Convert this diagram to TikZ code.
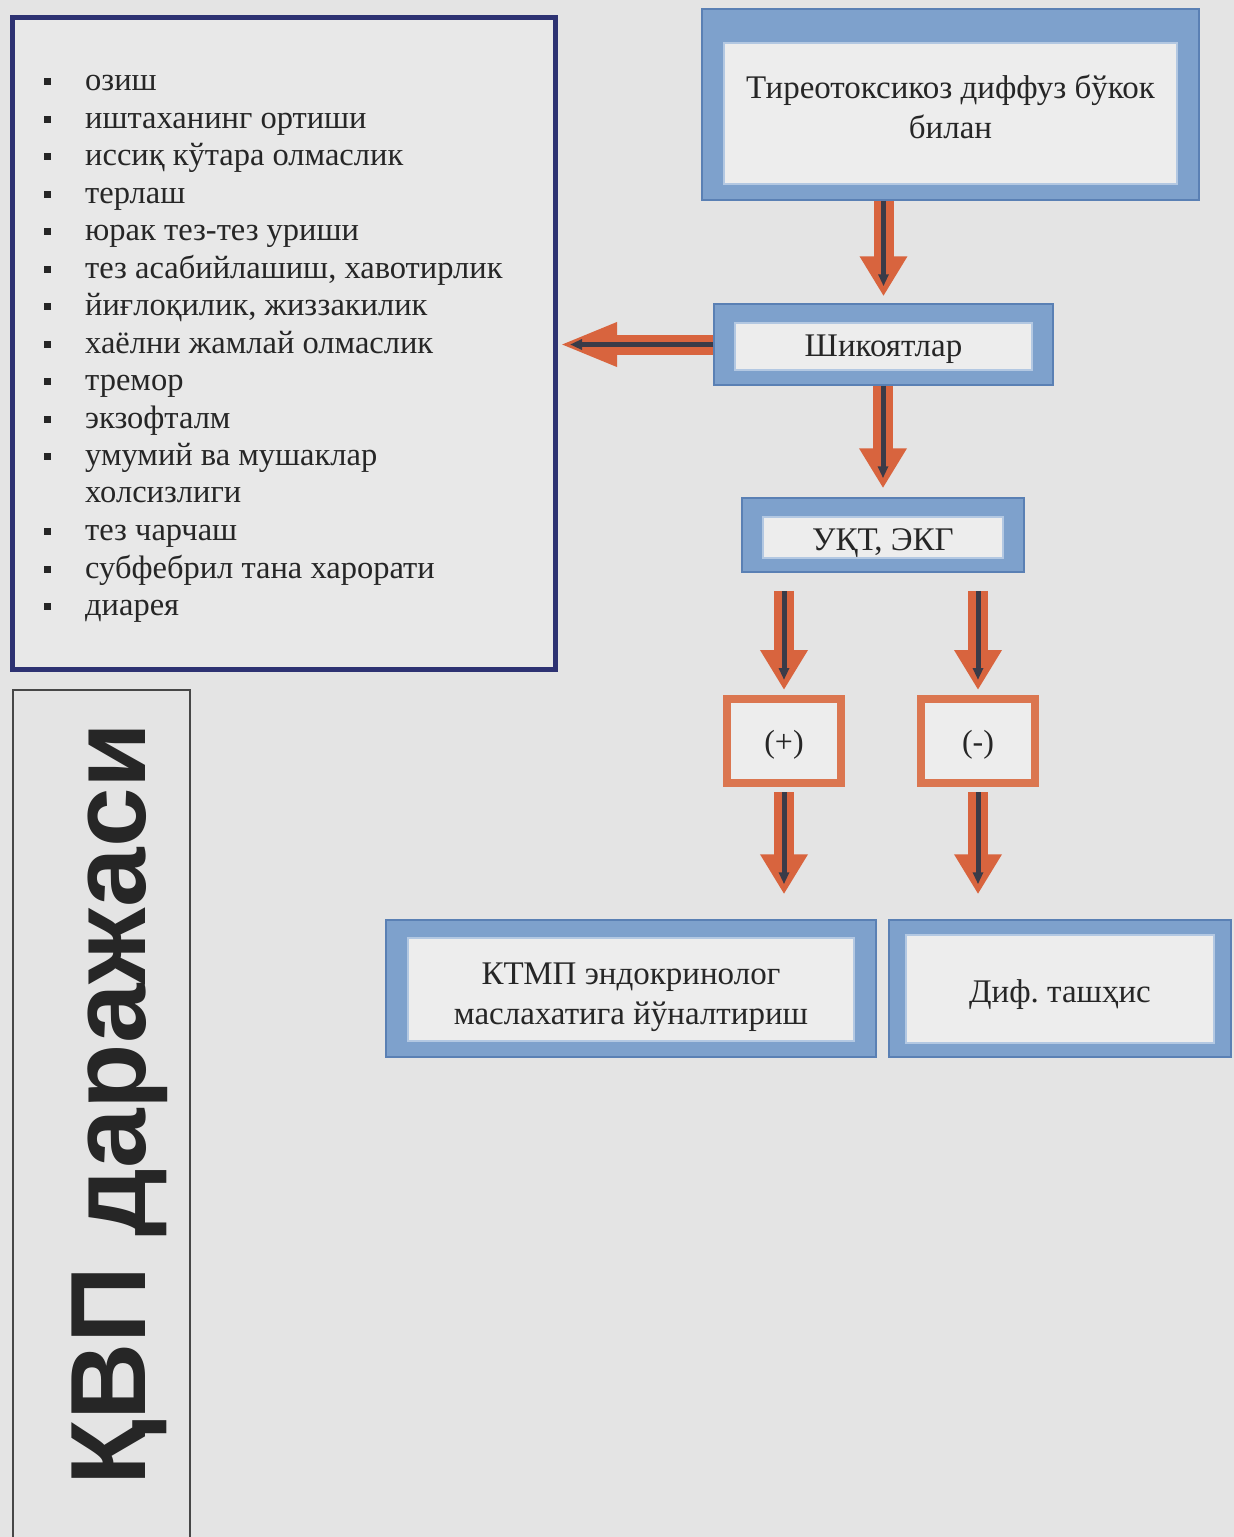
\documentclass[tikz,border=0pt]{standalone}
\usepackage{fontspec}
\setmainfont{Liberation Serif}
\newfontfamily\labelsans{Liberation Sans}
\usetikzlibrary{arrows.meta,calc}
\frenchspacing

\definecolor{paper}{HTML}{E4E4E4}
\definecolor{ink}{HTML}{262626}
\definecolor{innerfill}{HTML}{EDEDED}
\definecolor{framefill}{HTML}{7EA1CC}
\definecolor{frameedge}{HTML}{5A80B4}
\definecolor{framelight}{HTML}{B3C8E2}
\definecolor{listnavy}{HTML}{2D3272}
\definecolor{boxorange}{HTML}{DB7650}
\definecolor{arroworange}{HTML}{D8643E}
\definecolor{arrowcore}{HTML}{3A3B48}

% text lowered inside its node, keeping the node's own extents
\newcommand{\lowered}[2]{\raisebox{#1}[\height][\depth]{#2}}
\newcommand{\twolines}[3]{\lowered{#1}{\begin{tabular}{@{}c@{}}#2\\#3\end{tabular}}}

\tikzset{
  frame top/.store in=\frametop,
  frame bottom/.store in=\framebot,
  frame side/.store in=\frameside,
  frame top=19pt, frame bottom=15pt, frame side=21pt,
  bluebox/.style={fill=framefill, draw=frameedge, line width=1.5pt,
    inner sep=0pt, align=center, text=ink,
    font=\fontsize{33}{40}\selectfont,
    path picture={
      \fill[innerfill, draw=framelight, line width=1.5pt]
        ([xshift=\frameside, yshift=\framebot]path picture bounding box.south west)
        rectangle
        ([xshift=-\frameside, yshift=-\frametop]path picture bounding box.north east);
    }},
  resultbox/.style={draw=boxorange, line width=8pt, fill=innerfill,
    inner sep=0pt, minimum width=114pt, minimum height=84pt, text=ink,
    font=\fontsize{32}{38}\selectfont},
  listbox/.style={draw=listnavy, line width=5pt, fill=paper!60!innerfill,
    inner sep=0pt, minimum width=543pt, minimum height=652pt},
  listitem/.style={anchor=base west, inner sep=0pt, text=ink,
    font=\fontsize{32.5}{38}\selectfont},
  blockarrow/.style={draw=arroworange, line width=20pt,
    -{Triangle[width=45pt,length=40pt]}},
  sidearrow/.style={draw=arroworange, line width=20pt,
    -{Triangle[width=40pt,length=58pt]}},
  arrowcore/.style={draw=arrowcore, line width=5pt,
    -{Triangle[width=10pt,length=12pt]}},
}

\begin{document}
\begin{tikzpicture}[x=1pt,y=-1pt]
\useasboundingbox[fill=paper] (0,0) rectangle (1234,1537);
\clip (0,0) rectangle (1234,1537);

% symptom list
\node[listbox] (list) at (284,343.5) {};
\foreach \yy/\txt [count=\i] in {
    82/{озиш},
    120/{иштаханинг ортиши},
    157/{иссиқ кўтара олмаслик},
    195/{терлаш},
    232/{юрак тез-тез уриши},
    270/{тез асабийлашиш, хавотирлик},
    307/{йиғлоқилик, жиззакилик},
    345/{хаёлни жамлай олмаслик},
    382/{тремор},
    420/{экзофталм},
    457/{умумий ва мушаклар},
    532/{тез чарчаш},
    570/{субфебрил тана харорати},
    607/{диарея}} {
  \fill[ink] (44,\yy-4) rectangle (51,\yy+3);
  \node[listitem] (item\i) at (85,\yy+8) {\txt};
}
\node[listitem] (item11b) at (85,502) {холсизлиги};

% flow boxes
\node[bluebox, frame top=34pt, frame bottom=16pt, frame side=22pt,
      minimum width=497pt, minimum height=191pt] (cause) at (950.5,104.5)
      {\twolines{-6pt}{Тиреотоксикоз диффуз бўкок}{билан}};
\node[bluebox, minimum width=339pt, minimum height=81pt] (compl) at (883.5,344.5)
      {\lowered{-5pt}{Шикоятлар}};
\node[bluebox, frame top=19pt, frame bottom=14pt,
      minimum width=282pt, minimum height=74pt] (test) at (883,535)
      {\lowered{-8pt}{УҚТ, ЭКГ}};
\node[resultbox] (plus) at (784,741) {\lowered{-4pt}{(+)}};
\node[resultbox] (minus) at (978,741) {\lowered{-4pt}{(-)}};
\node[bluebox, frame top=18pt, frame bottom=16pt, frame side=22pt,
      minimum width=490pt, minimum height=137pt] (refer) at (631,988.5)
      {\twolines{-8pt}{КТМП эндокринолог}{маслахатига йўналтириш}};
\node[bluebox, frame top=15pt, frame bottom=14pt, frame side=17pt,
      minimum width=342pt, minimum height=137pt] (diff) at (1060,988.5)
      {\lowered{-6pt}{Диф. ташҳис}};

% connectors
\foreach \a/\b/\s/\e in {cause/compl/0/7, compl/test/0/9} {
  \draw[blockarrow, shorten <=\s pt, shorten >=\e pt]
    (\a.south -| \b.north) -- (\b.north);
  \draw[arrowcore, shorten <=\s pt, shorten >=\e pt+10pt]
    (\a.south -| \b.north) -- (\b.north);
}
\foreach \b in {plus, minus} {
  \draw[blockarrow, shorten <=18pt, shorten >=5pt]
    (test.south -| \b.north) -- (\b.north);
  \draw[arrowcore, shorten <=18pt, shorten >=15pt]
    (test.south -| \b.north) -- (\b.north);
}
\draw[blockarrow, shorten <=5pt, shorten >=25pt] (plus.south) -- (plus.south |- refer.north);
\draw[arrowcore, shorten <=5pt, shorten >=35pt] (plus.south) -- (plus.south |- refer.north);
\draw[blockarrow, shorten <=5pt, shorten >=25pt] (minus.south) -- (minus.south |- diff.north);
\draw[arrowcore, shorten <=5pt, shorten >=35pt] (minus.south) -- (minus.south |- diff.north);

\draw[sidearrow, shorten >=1pt] (compl.west) -- (list.east |- compl.west);
\draw[arrowcore, shorten >=12pt] (compl.west) -- (list.east |- compl.west);

% level label
\draw[ink!85, line width=2pt] (13,690) rectangle (190,1560);
\node[rotate=90, inner sep=0pt, text=ink,
      font=\labelsans\bfseries\fontsize{107}{115}\selectfont] (level) at (120,1104)
      {ҚВП даражаси};
\end{tikzpicture}
\end{document}
